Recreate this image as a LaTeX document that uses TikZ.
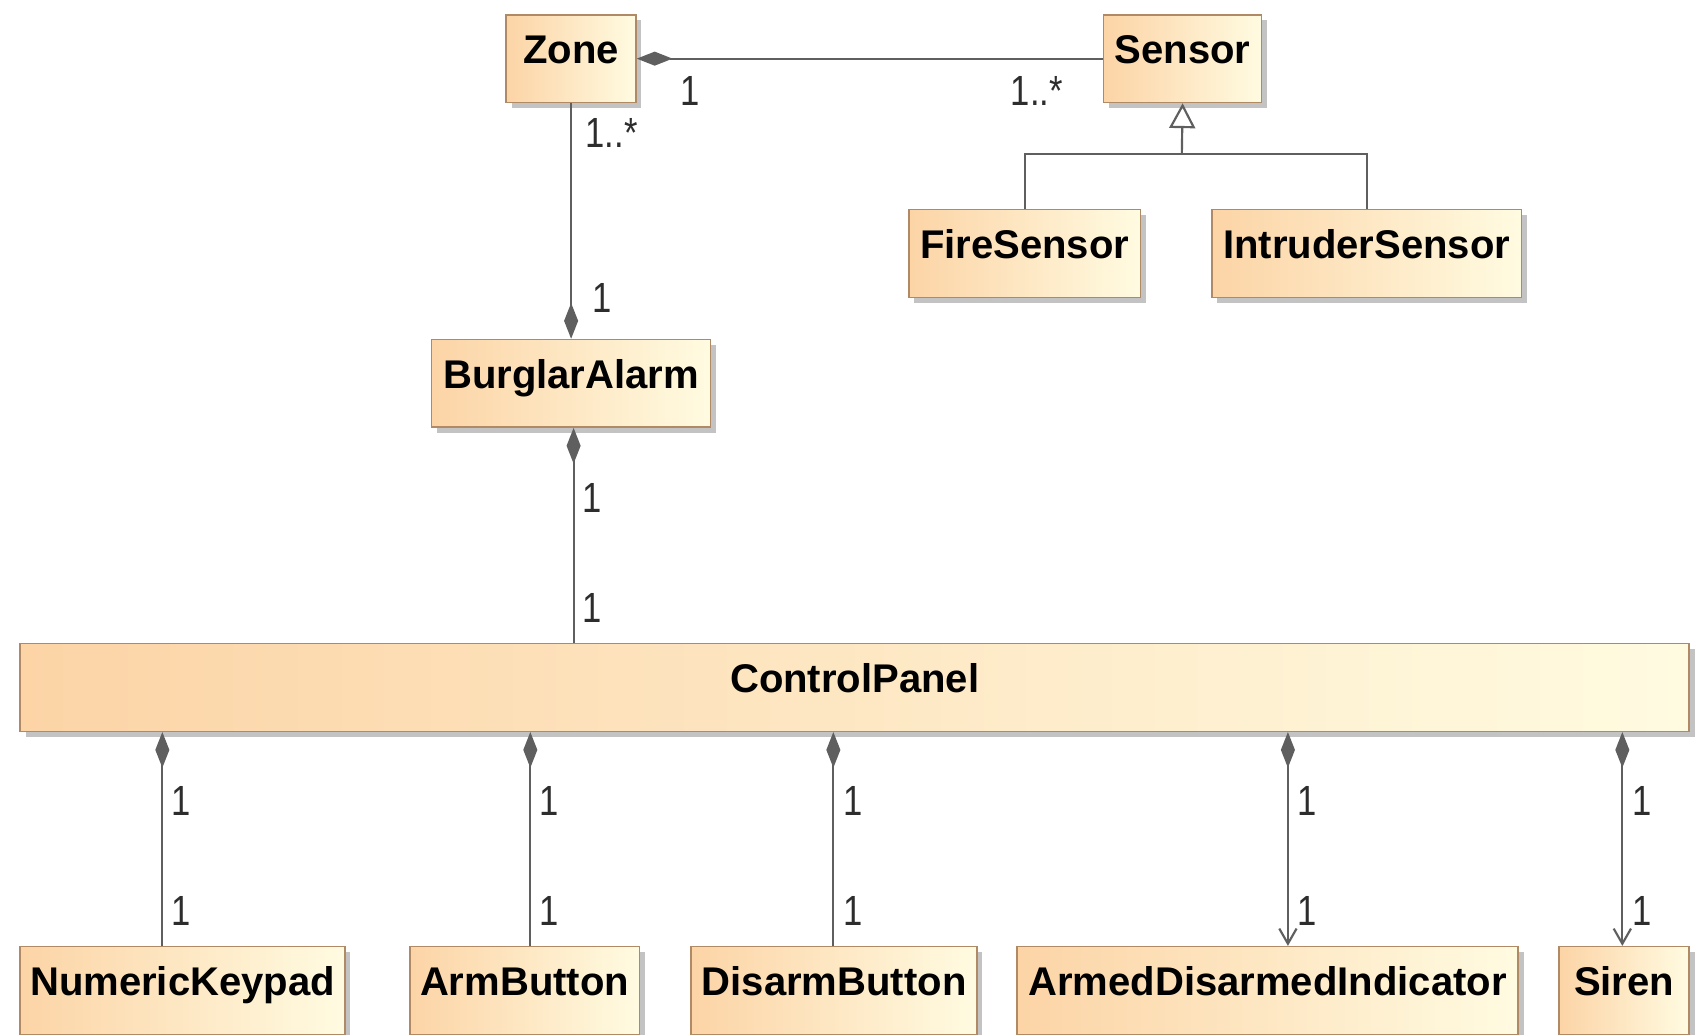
\documentclass[tikz,border=0pt]{standalone}
\usepackage{fontspec}
\setmainfont{Liberation Sans}
\newfontfamily\multfont[FakeStretch=0.82]{Liberation Sans}
\usetikzlibrary{arrows.meta,shadows}
\definecolor{boxL}{RGB}{252,212,166}
\definecolor{boxR}{RGB}{255,251,225}
\definecolor{boxB}{RGB}{176,138,100}
\definecolor{lineC}{RGB}{95,95,95}
\definecolor{multC}{RGB}{45,45,45}
\definecolor{shadowC}{RGB}{195,195,195}
\begin{document}
\begin{tikzpicture}[x=0.5pt,y=-0.5pt,
  cls/.style={rectangle, draw=boxB, line width=0.7pt, left color=boxL, right color=boxR,
    inner xsep=0pt, inner ysep=0pt, text height=22.5pt, text depth=18pt, anchor=north west,
    font=\fontsize{18.5}{20}\selectfont\bfseries,
    drop shadow={shadow xshift=2.5pt, shadow yshift=-2.5pt, fill=shadowC, opacity=1}},
  mult/.style={font=\multfont\fontsize{19.5}{21}\selectfont, text=multC, inner sep=0pt},
  assoc/.style={draw=lineC, line width=1pt},
  comp/.style={assoc, {Diamond[length=16.5pt,width=6.5pt]}-},
  nav/.style={assoc, {Diamond[length=16.5pt,width=6.5pt]}-{Straight Barb[length=7pt,width=8pt]}},
  gen/.style={assoc, -{Triangle[open, length=11.5pt, width=12pt, fill=white]}}
]
\useasboundingbox (0,0) rectangle (1568,956);

% classes
\node[cls, minimum width=60pt]    (Zone)   at (467,13)  {Zone};
\node[cls, minimum width=73pt]    (Sensor) at (1019,13) {Sensor};
\node[cls, minimum width=107pt]   (Fire)   at (839,193) {FireSensor};
\node[cls, minimum width=143pt]   (Intr)   at (1119,193) {IntruderSensor};
\node[cls, minimum width=129pt]   (Alarm)  at (398,313) {BurglarAlarm};
\node[cls, minimum width=771pt]   (Panel)  at (18,594)  {ControlPanel};
\node[cls, minimum width=150pt]   (Keypad) at (18,874)  {NumericKeypad};
\node[cls, minimum width=106pt]   (Arm)    at (378,874) {ArmButton};
\node[cls, minimum width=132pt]   (Disarm) at (638,874) {DisarmButton};
\node[cls, minimum width=231.5pt] (Ind)    at (939,874) {ArmedDisarmedIndicator};
\node[cls, minimum width=60pt]    (Siren)  at (1440,874) {Siren};

% Zone - Sensor
\draw[comp] (Zone.east) -- (Sensor.west);
\node[mult] (mZ1) at (638,84) {1};
\node[mult] (mS1) at (958,84) {1..*};

% Zone - BurglarAlarm
\draw[assoc, -{Diamond[length=16.5pt,width=6.5pt]}] (Zone.south) -- (Alarm.north);
\node[mult] (mZ2) at (565,123) {1..*};
\node[mult] (mA1) at (556,275) {1};

% BurglarAlarm - ControlPanel
\coordinate (ac) at (530,0);
\draw[comp] (Alarm.south -| ac) -- (Panel.north -| ac);
\node[mult] (mA2) at (547,460) {1};
\node[mult] (mP1) at (547,562) {1};

% generalization
\coordinate (gj) at (1092,142);
\draw[assoc] (Fire.north) |- (gj) -| (Intr.north);
\draw[gen] (gj) -- (Sensor.south);

% ControlPanel parts
\coordinate (k1) at (150,0);
\coordinate (k2) at (490,0);
\coordinate (k3) at (770,0);
\coordinate (k4) at (1190,0);
\coordinate (k5) at (1499,0);
\draw[comp] (Panel.south -| k1) -- (Keypad.north -| k1);
\draw[comp] (Panel.south -| k2) -- (Arm.north -| k2);
\draw[comp] (Panel.south -| k3) -- (Disarm.north -| k3);
\draw[nav]  (Panel.south -| k4) -- (Ind.north -| k4);
\draw[nav]  (Panel.south -| k5) -- (Siren.north -| k5);

\node[mult] (b1a) at (167,740) {1};
\node[mult] (b1b) at (167,842) {1};
\node[mult] (b2a) at (507,740) {1};
\node[mult] (b2b) at (507,842) {1};
\node[mult] (b3a) at (788,740) {1};
\node[mult] (b3b) at (788,842) {1};
\node[mult] (b4a) at (1208,740) {1};
\node[mult] (b4b) at (1208,842) {1};
\node[mult] (b5a) at (1517,740) {1};
\node[mult] (b5b) at (1517,842) {1};
\end{tikzpicture}
\end{document}
